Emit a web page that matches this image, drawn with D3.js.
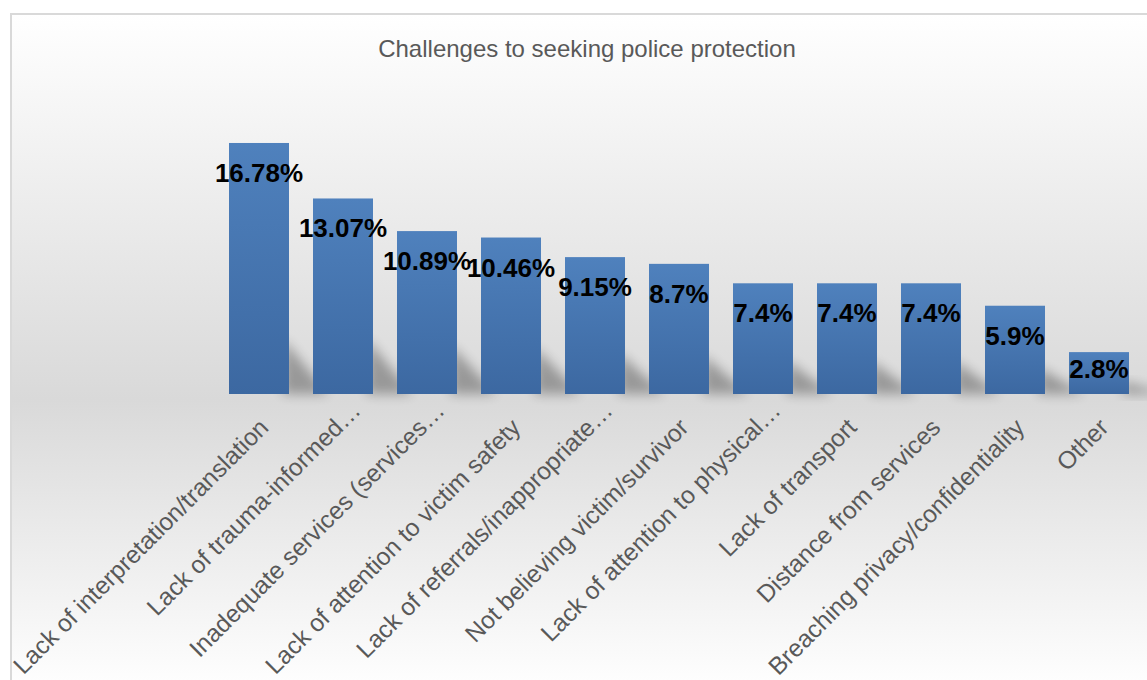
<!DOCTYPE html>
<html>
<head>
<meta charset="utf-8">
<script src="https://cdn.jsdelivr.net/npm/d3@7"></script>
<style>
  body { margin: 0; background: #fff; overflow: hidden; }
  text { font-family: "Liberation Sans", Arial, sans-serif; }
</style>
</head>
<body>
<div id="chart"></div>
<script>
const chartTitle = "Challenges to seeking police protection";

const categories = ["Lack of interpretation/translation", "Lack of trauma-informed…",
                    "Inadequate services (services…", "Lack of attention to victim safety",
                    "Lack of referrals/inappropriate…", "Not believing victim/survivor",
                    "Lack of attention to physical…", "Lack of transport",
                    "Distance from services", "Breaching privacy/confidentiality", "Other"];
const values = [16.78, 13.07, 10.89, 10.46, 9.15, 8.7, 7.4, 7.4, 7.4, 5.9, 2.8];
const valueLabels = ["16.78%", "13.07%", "10.89%", "10.46%", "9.15%", "8.7%",
                     "7.4%", "7.4%", "7.4%", "5.9%", "2.8%"];

const width = 1147;
const height = 680;
const baseY = 394;

const data = categories.map((c, i) => ({ name: c, value: values[i], label: valueLabels[i] }));

const svg = d3.select("#chart").append("svg")
                .attr("width", width)
                .attr("height", height);

const defs = svg.append("defs");

// chart background: white -> gray at the axis -> white
const bg = defs.append("linearGradient").attr("id", "bgGrad")
                .attr("gradientUnits", "userSpaceOnUse")
                .attr("x1", 0).attr("y1", 14).attr("x2", 0).attr("y2", 690);
bg.append("stop").attr("offset", 0).attr("stop-color", "#ffffff");
bg.append("stop").attr("offset", 0.57).attr("stop-color", "#d9d9d9");
bg.append("stop").attr("offset", 1).attr("stop-color", "#ffffff");

const barGrad = defs.append("linearGradient").attr("id", "barGrad")
                .attr("x1", 0).attr("y1", 0).attr("x2", 0).attr("y2", 1);
barGrad.append("stop").attr("offset", 0).attr("stop-color", "#4f81bd");
barGrad.append("stop").attr("offset", 1).attr("stop-color", "#3c68a1");

const blur = defs.append("filter").attr("id", "shadowBlur")
                .attr("x", "-50%").attr("y", "-50%").attr("width", "200%").attr("height", "200%");
blur.append("feGaussianBlur").attr("stdDeviation", 6);

svg.append("rect")
    .attr("x", 11).attr("y", 14)
    .attr("width", 1160).attr("height", 700)
    .attr("fill", "url(#bgGrad)")
    .attr("stroke", "#d9d9d9")
    .attr("stroke-width", 2);

svg.append("text")
    .attr("x", 587).attr("y", 57)
    .attr("text-anchor", "middle")
    .attr("font-size", 24)
    .attr("fill", "#595959")
    .text(chartTitle);

let x = d3.scaleBand().domain(categories).range([187, 1171]).paddingInner(2 / 7).paddingOuter(0.5);
let y = d3.scaleLinear().domain([0, 18]).range([baseY, baseY - 18 * 14.96]);

// soft shadow falling to the right of each bar
svg.append("g").selectAll("path").data(data).enter().append("path")
    .attr("d", d => {
        const x1 = x(d.name) + x.bandwidth() - 6;
        const sh = Math.min((baseY - y(d.value)) * 0.3, 55);
        return `M${x1},${baseY} L${x1},${baseY - sh} L${x1 + 45},${baseY} Z`;
    })
    .attr("fill", "#000")
    .attr("opacity", 0.3)
    .attr("filter", "url(#shadowBlur)");

svg.append("g").selectAll("rect").data(data).enter().append("rect")
    .attr("x", d => x(d.name))
    .attr("y", d => y(d.value))
    .attr("width", x.bandwidth())
    .attr("height", d => baseY - y(d.value))
    .attr("fill", "url(#barGrad)");

svg.append("g").selectAll("text").data(data).enter().append("text")
    .attr("x", d => x(d.name) + x.bandwidth() / 2)
    .attr("y", d => Math.min(y(d.value) + 39, baseY - 16))
    .attr("text-anchor", "middle")
    .attr("font-size", 26)
    .attr("font-weight", "bold")
    .attr("fill", "#000")
    .text(d => d.label);

// rotated category labels
svg.append("g").selectAll("text").data(data).enter().append("text")
    .attr("transform", d => {
        const cx = x(d.name) + x.bandwidth() / 2;
        return d.name.endsWith("…")
            ? `translate(${cx + 19}, 412) rotate(-45)`
            : `translate(${cx + 11}, 429) rotate(-45)`;
    })
    .attr("text-anchor", "end")
    .attr("font-size", 24.5)
    .attr("fill", "#595959")
    .text(d => d.name);
</script>
</body>
</html>
